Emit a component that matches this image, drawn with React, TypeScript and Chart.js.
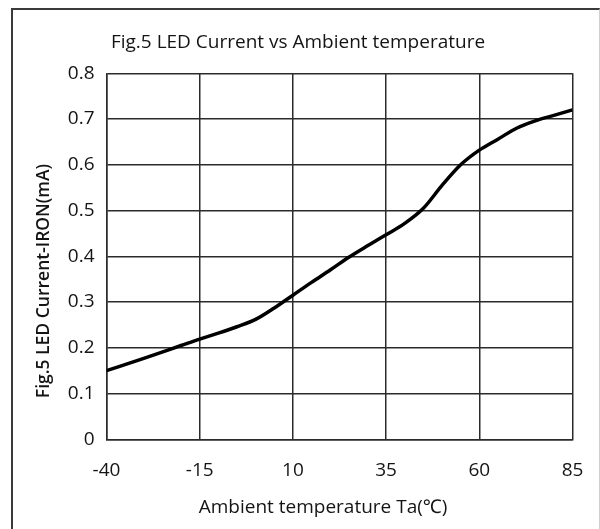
import React, { useEffect, useRef } from "react";
import { Chart, registerables } from "chart.js";

Chart.register(...registerables);

// Ambient temperature (°C) and LED current IRON (mA) sampled along the curve
const temperatures = [-40, -30, -20, -15, -10, -5, 0, 5, 10, 15, 20, 25, 30, 35, 40, 45, 50, 55, 60, 65, 70, 75, 80, 85];
const currents = [0.15, 0.177, 0.205, 0.219, 0.232, 0.246, 0.262, 0.287, 0.315, 0.343, 0.37, 0.398, 0.423, 0.447, 0.472, 0.505, 0.555, 0.6, 0.632, 0.656, 0.68, 0.696, 0.708, 0.72];

const xTicks = [-40, -15, 10, 35, 60, 85];
const yTicks = [0, 0.1, 0.2, 0.3, 0.4, 0.5, 0.6, 0.7, 0.8];

const chartTitle = "Fig.5 LED Current vs Ambient temperature";
const xTitle = "Ambient temperature Ta(℃)";
const yTitle = "Fig.5 LED Current-IRON(mA)";

const FONT = "'Open Sans', 'Noto Sans', sans-serif";
const GRID = "#2b2b2b";
const TEXT = "#141414";

// Draws the figure title and both axis titles at fixed places on the canvas
const textPlugin = {
  id: "figureText",
  afterDraw(chart: Chart) {
    const ctx = chart.ctx;
    ctx.save();
    ctx.fillStyle = TEXT;
    ctx.textAlign = "center";
    ctx.textBaseline = "middle";
    ctx.font = `19px ${FONT}`;
    ctx.fillText(chartTitle, 298, 43);
    ctx.fillText(xTitle, 323, 508);
    ctx.translate(44, 281);
    ctx.rotate(-Math.PI / 2);
    ctx.font = `600 17.5px ${FONT}`;
    ctx.fillText(yTitle, 0, 0);
    ctx.restore();
  },
};

export default function App() {
  const canvasRef = useRef<HTMLCanvasElement | null>(null);

  useEffect(() => {
    if (!canvasRef.current) return;
    const chart = new Chart(canvasRef.current, {
      type: "line",
      data: {
        datasets: [
          {
            data: temperatures.map((t, i) => ({ x: t, y: currents[i] })),
            borderColor: "#000000",
            borderWidth: 3.5,
            pointRadius: 0,
            fill: false,
            cubicInterpolationMode: "monotone",
          },
        ],
      },
      options: {
        responsive: false,
        animation: false,
        layout: { padding: { top: 73.3, right: 27.5, left: 0, bottom: 0 } },
        plugins: {
          legend: { display: false },
          title: { display: false },
          tooltip: { enabled: false },
        },
        scales: {
          x: {
            type: "linear",
            min: xTicks[0],
            max: xTicks[xTicks.length - 1],
            afterBuildTicks: (scale: any) => {
              scale.ticks = xTicks.map((v) => ({ value: v }));
            },
            afterFit: (scale: any) => {
              scale.height = 89.7;
              // end labels fit inside the outer padding, so no extra room is needed
              scale.paddingLeft = 0;
              scale.paddingRight = 0;
            },
            ticks: {
              color: TEXT,
              font: { family: FONT, size: 19 },
              padding: 20,
              maxRotation: 0,
              autoSkip: false,
            },
            grid: { color: GRID, lineWidth: 1.5, drawTicks: false },
            border: { display: true, color: GRID, width: 1.5 },
          },
          y: {
            min: yTicks[0],
            max: yTicks[yTicks.length - 1],
            afterBuildTicks: (scale: any) => {
              scale.ticks = yTicks.map((v) => ({ value: v }));
            },
            afterFit: (scale: any) => {
              scale.width = 106.5;
              scale.paddingTop = 0;
              scale.paddingBottom = 0;
            },
            ticks: {
              color: TEXT,
              font: { family: FONT, size: 19 },
              padding: 12,
              autoSkip: false,
              callback: (v: any) => (Number(v) === 0 ? "0" : Number(v).toFixed(1)),
            },
            grid: { color: GRID, lineWidth: 1.5, drawTicks: false },
            border: { display: true, color: GRID, width: 1.5 },
          },
        },
      },
      plugins: [textPlugin],
    });
    return () => chart.destroy();
  }, []);

  return (
    <div style={{ position: "fixed", left: 0, top: 0, width: 600, height: 529, background: "#fff" }}>
      <div
        style={{
          position: "absolute",
          left: 11,
          top: 8,
          width: 589,
          height: 540,
          borderTop: "2px solid #3a3a3a",
          borderLeft: "2px solid #3a3a3a",
          borderRight: "1px solid #cfcfcf",
          boxSizing: "border-box",
        }}
      />
      <canvas ref={canvasRef} width={600} height={529} style={{ position: "absolute", left: 0, top: 0 }} />
    </div>
  );
}
